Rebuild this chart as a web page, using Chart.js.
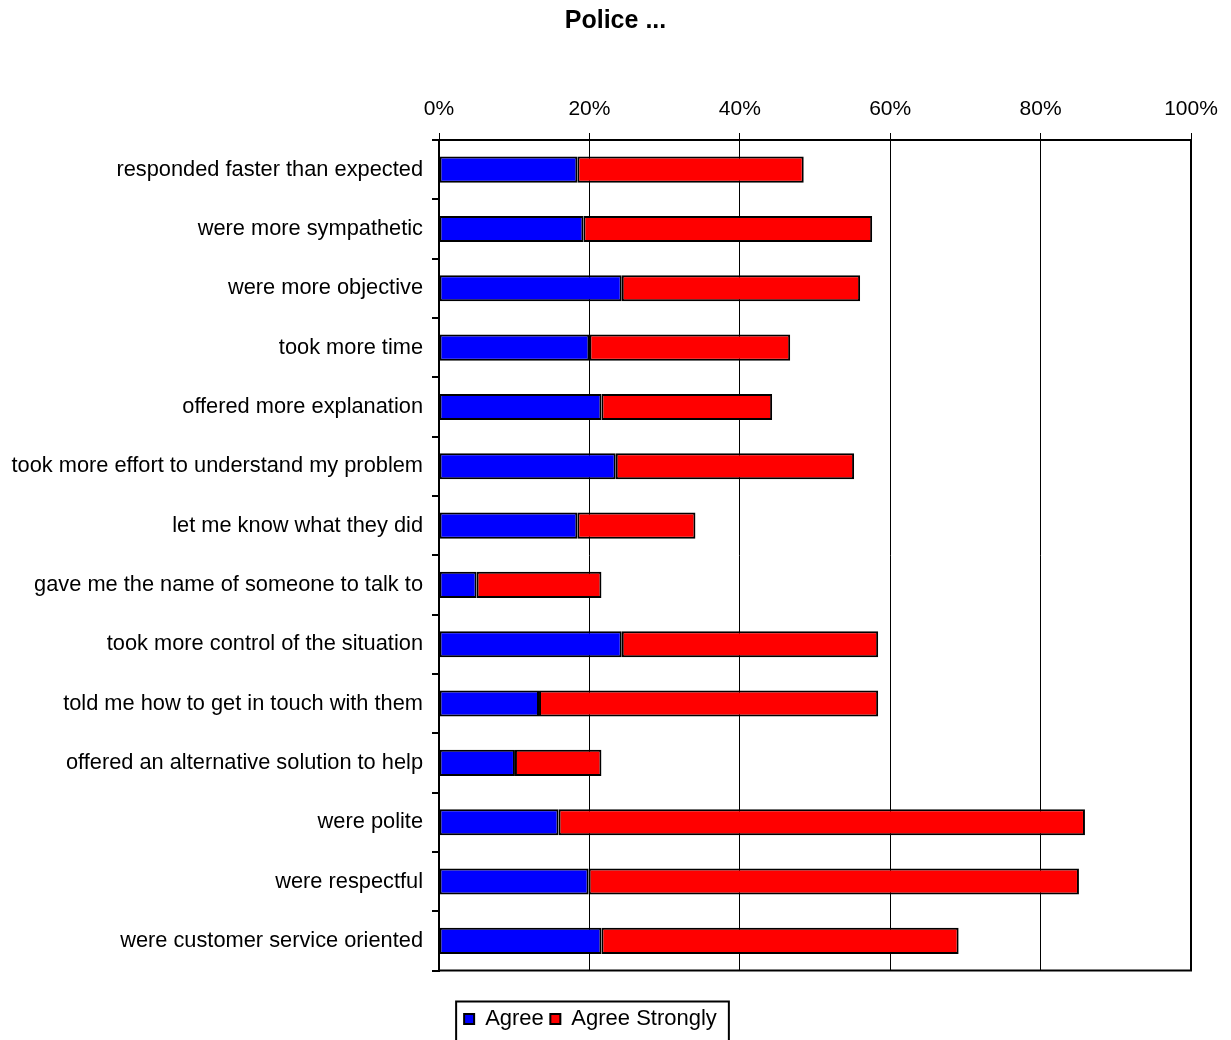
<!DOCTYPE html>
<html>
<head>
<meta charset="utf-8">
<title>Police ...</title>
<script src="https://cdn.jsdelivr.net/npm/chart.js@4/dist/chart.umd.min.js"></script>
<style>
    html, body { margin: 0; padding: 0; background: #fff; }
    #wrap { width: 1231px; height: 1040px; }
</style>
</head>
<body>
<div id="wrap"><canvas id="policeChart" width="1231" height="1040"></canvas></div>
<script>
const categories = [
    'responded faster than expected',
    'were more sympathetic',
    'were more objective',
    'took more time',
    'offered more explanation',
    'took more effort to understand my problem',
    'let me know what they did',
    'gave me the name of someone to talk to',
    'took more control of the situation',
    'told me how to get in touch with them',
    'offered an alternative solution to help',
    'were polite',
    'were respectful',
    'were customer service oriented'
];
const agree = [18.4, 19.2, 24.3, 20.0, 21.6, 23.5, 18.4, 5.0, 24.3, 13.3, 10.1, 15.9, 19.9, 21.6];
const agreeStrongly = [30.1, 38.4, 31.7, 26.7, 22.7, 31.7, 15.7, 16.6, 34.1, 45.1, 11.5, 70.0, 65.2, 47.5];
const tickValues = [0, 20, 40, 60, 80, 100];

document.addEventListener('DOMContentLoaded', function() {
    const font = 'Liberation Sans, Arial, Helvetica, sans-serif';
    Chart.defaults.font.family = font;
    Chart.defaults.color = '#000';

    // Frame around the plot area and box around the legend
    const framePlugin = {
        id: 'framePlugin',
        afterLayout: function(chart) {
            // legend sits a bit left of the page centre in the original
            if (chart.legend) {
                chart.legend.left -= 25;
                chart.legend.right -= 25;
            }
        },
        afterDraw: function(chart) {
            const ctx = chart.ctx;
            const a = chart.chartArea;
            ctx.save();
            ctx.strokeStyle = '#000';
            ctx.lineWidth = 2;
            ctx.strokeRect(a.left, a.top, a.right - a.left, a.bottom - a.top);

            const lg = chart.legend;
            if (lg && lg.lineWidths) {
                const pad = lg.options.labels.padding;
                const lw = lg.lineWidths[0];
                const x0 = (lg.left + pad + lg.right - lw) / 2;
                ctx.strokeRect(x0 - 8, lg.top, lw - pad + 20, 60);
            }
            ctx.restore();
        }
    };

    const ctx = document.getElementById('policeChart').getContext('2d');
    new Chart(ctx, {
        type: 'bar',
        data: {
            labels: categories,
            datasets: [
                {
                    label: 'Agree',
                    data: agree,
                    xAxisID: 'x',
                    yAxisID: 'y',
                    backgroundColor: '#0000ff',
                    borderColor: '#000',
                    borderWidth: 2,
                    borderSkipped: false
                },
                {
                    label: 'Agree Strongly',
                    data: agreeStrongly,
                    xAxisID: 'x',
                    yAxisID: 'y',
                    backgroundColor: '#ff0000',
                    borderColor: '#000',
                    borderWidth: 2,
                    borderSkipped: false
                }
            ]
        },
        options: {
            indexAxis: 'y',
            responsive: false,
            animation: false,
            barPercentage: 0.44,
            categoryPercentage: 1,
            layout: { padding: 0 },
            scales: {
                x: {
                    position: 'top',
                    stacked: true,
                    min: 0,
                    max: 100,
                    afterBuildTicks: function(scale) {
                        scale.ticks = tickValues.map(function(v) { return { value: v }; });
                    },
                    afterFit: function(scale) { scale.height = 80; },
                    ticks: {
                        font: { size: 21 },
                        padding: 11,
                        callback: function(v) { return v + '%'; }
                    },
                    grid: {
                        color: '#000',
                        lineWidth: 1,
                        tickLength: 7,
                        drawTicks: true
                    },
                    border: { display: true, color: '#000', width: 2 }
                },
                xBottom: {
                    axis: 'x',
                    position: 'bottom',
                    display: true,
                    ticks: { display: false },
                    grid: { display: false },
                    border: { display: false },
                    afterFit: function(scale) { scale.height = 31; }
                },
                yRight: {
                    axis: 'y',
                    position: 'right',
                    display: true,
                    ticks: { display: false },
                    grid: { display: false },
                    border: { display: false },
                    afterFit: function(scale) { scale.width = 40; }
                },
                y: {
                    stacked: true,
                    afterFit: function(scale) { scale.width = 439; },
                    ticks: {
                        font: { size: 21.8 },
                        padding: 9,
                        autoSkip: false
                    },
                    grid: {
                        offset: true,
                        drawOnChartArea: false,
                        color: '#000',
                        lineWidth: 2,
                        tickLength: 7
                    },
                    border: { display: true, color: '#000', width: 2 }
                }
            },
            plugins: {
                title: {
                    display: true,
                    text: 'Police ...',
                    font: { size: 25, weight: 'bold' },
                    padding: { top: 6, bottom: 24 }
                },
                legend: {
                    position: 'bottom',
                    labels: {
                        boxWidth: 10,
                        boxHeight: 10,
                        padding: 6.5,
                        font: { size: 22, lineHeight: 1 }
                    }
                },
                tooltip: { enabled: false }
            }
        },
        plugins: [framePlugin]
    });
});
</script>
</body>
</html>
